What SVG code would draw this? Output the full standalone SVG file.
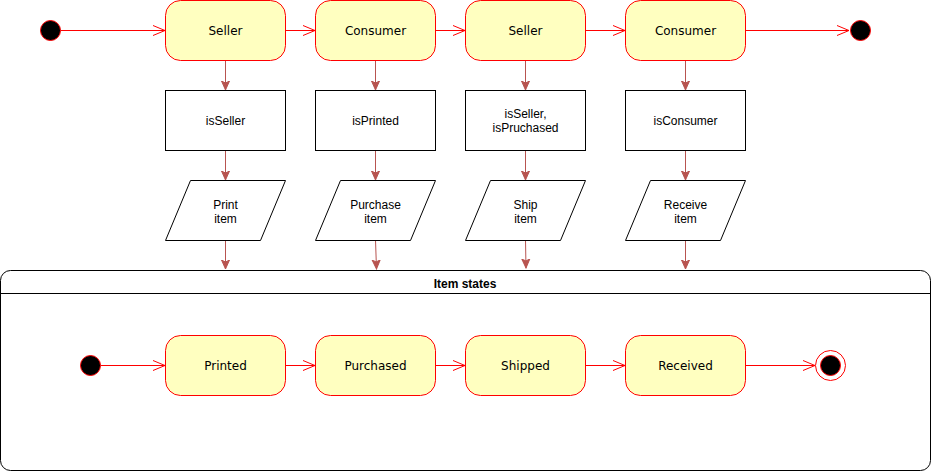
<svg xmlns="http://www.w3.org/2000/svg" width="931" height="471" viewBox="0 0 931 471">
<style>
.st{fill:#ffffc0;stroke:#ff0000;stroke-width:1}
.sl{font-family:"DejaVu Sans",Verdana,sans-serif;font-size:12px;fill:#000;text-anchor:middle}
.box{fill:#fff;stroke:#000;stroke-width:1}
.bl{font-family:"Liberation Sans",Arial,sans-serif;font-size:12px;fill:#000;text-anchor:middle}
.red{fill:none;stroke:#ff0000;stroke-width:1;marker-end:url(#open)}
.brn{fill:none;stroke:#b85450;stroke-width:1;marker-end:url(#blk)}
.dot{fill:#000;stroke:#ff0000;stroke-width:1}
</style>
<defs>
<marker id="open" markerWidth="14" markerHeight="12" refX="13" refY="6" orient="auto" markerUnits="userSpaceOnUse">
<path d="M1,1 L13,6 L1,11" fill="none" stroke="#ff0000" stroke-width="1"/>
</marker>
<marker id="blk" markerWidth="10" markerHeight="10" refX="9" refY="5" orient="auto" markerUnits="userSpaceOnUse">
<path d="M0,1 L9,5 L0,9 L2,5 Z" fill="#b85450" stroke="#b85450" stroke-width="1"/>
</marker>
</defs>
<g id="container">
<path d="M10.5,270.5 H920.5 A10,10 0 0 1 930.5,280.5 V460.5 A10,10 0 0 1 920.5,470.5 H10.5 A10,10 0 0 1 0.5,460.5 V280.5 A10,10 0 0 1 10.5,270.5 Z" fill="#fff" stroke="#000"/>
<line x1="0.5" y1="293.5" x2="930.5" y2="293.5" stroke="#000"/>
<text x="465" y="288" font-family="'Liberation Sans',Arial,sans-serif" font-size="12" font-weight="bold" text-anchor="middle">Item states</text>
</g>
<g id="connectors">
<line class="red" x1="61" y1="30.5" x2="165" y2="30.5"/>
<line class="red" x1="285" y1="30.5" x2="315" y2="30.5"/>
<line class="red" x1="435" y1="30.5" x2="465" y2="30.5"/>
<line class="red" x1="585" y1="30.5" x2="625" y2="30.5"/>
<line class="red" x1="745" y1="30.5" x2="849" y2="30.5"/>
<line class="brn" x1="225.5" y1="60" x2="225.5" y2="90"/>
<line class="brn" x1="375.5" y1="60" x2="375.5" y2="90"/>
<line class="brn" x1="525.5" y1="60" x2="525.5" y2="90"/>
<line class="brn" x1="685.5" y1="60" x2="685.5" y2="90"/>
<line class="brn" x1="225.5" y1="150" x2="225.5" y2="180"/>
<line class="brn" x1="375.5" y1="150" x2="375.5" y2="180"/>
<line class="brn" x1="525.5" y1="150" x2="525.5" y2="180"/>
<line class="brn" x1="685.5" y1="150" x2="685.5" y2="180"/>
<line class="brn" x1="225.5" y1="240" x2="225.5" y2="269"/>
<line class="brn" x1="375.5" y1="240" x2="376.5" y2="269"/>
<line class="brn" x1="525.5" y1="240" x2="526" y2="268"/>
<line class="brn" x1="685.5" y1="240" x2="685.5" y2="269"/>
<line class="red" x1="101" y1="365.5" x2="165" y2="365.5"/>
<line class="red" x1="285" y1="365.5" x2="315" y2="365.5"/>
<line class="red" x1="435" y1="365.5" x2="465" y2="365.5"/>
<line class="red" x1="585" y1="365.5" x2="625" y2="365.5"/>
<line class="red" x1="745" y1="365.5" x2="815" y2="365.5"/>
</g>
<g id="start-top"><circle class="dot" cx="50.5" cy="30.5" r="10"/></g>
<g id="end-top"><circle class="dot" cx="860.5" cy="30.5" r="10"/></g>
<g id="seller1"><rect class="st" x="165.5" y="0.5" width="120" height="60" rx="15"/><text class="sl" x="225.5" y="35">Seller</text></g>
<g id="consumer1"><rect class="st" x="315.5" y="0.5" width="120" height="60" rx="15"/><text class="sl" x="375.5" y="35">Consumer</text></g>
<g id="seller2"><rect class="st" x="465.5" y="0.5" width="120" height="60" rx="15"/><text class="sl" x="525.5" y="35">Seller</text></g>
<g id="consumer2"><rect class="st" x="625.5" y="0.5" width="120" height="60" rx="15"/><text class="sl" x="685.5" y="35">Consumer</text></g>
<g id="isSeller"><rect class="box" x="165.5" y="90.5" width="120" height="60"/><text class="bl" x="225.5" y="125">isSeller</text></g>
<g id="isPrinted"><rect class="box" x="315.5" y="90.5" width="120" height="60"/><text class="bl" x="375.5" y="125">isPrinted</text></g>
<g id="isSellerPurchased"><rect class="box" x="465.5" y="90.5" width="120" height="60"/><text class="bl" x="525.5" y="118">isSeller,</text><text class="bl" x="525.5" y="132">isPruchased</text></g>
<g id="isConsumer"><rect class="box" x="625.5" y="90.5" width="120" height="60"/><text class="bl" x="685.5" y="125">isConsumer</text></g>
<g id="print-item"><path class="box" d="M190.5,180.5 H285.5 L260.5,240.5 H165.5 Z"/><text class="bl" x="225.5" y="209">Print</text><text class="bl" x="225.5" y="223">item</text></g>
<g id="purchase-item"><path class="box" d="M340.5,180.5 H435.5 L410.5,240.5 H315.5 Z"/><text class="bl" x="375.5" y="209">Purchase</text><text class="bl" x="375.5" y="223">item</text></g>
<g id="ship-item"><path class="box" d="M490.5,180.5 H585.5 L560.5,240.5 H465.5 Z"/><text class="bl" x="525.5" y="209">Ship</text><text class="bl" x="525.5" y="223">item</text></g>
<g id="receive-item"><path class="box" d="M650.5,180.5 H745.5 L720.5,240.5 H625.5 Z"/><text class="bl" x="685.5" y="209">Receive</text><text class="bl" x="685.5" y="223">item</text></g>
<g id="start-bottom"><circle class="dot" cx="90.5" cy="365.5" r="10"/></g>
<g id="printed"><rect class="st" x="165.5" y="335.5" width="120" height="60" rx="15"/><text class="sl" x="225.5" y="370">Printed</text></g>
<g id="purchased"><rect class="st" x="315.5" y="335.5" width="120" height="60" rx="15"/><text class="sl" x="375.5" y="370">Purchased</text></g>
<g id="shipped"><rect class="st" x="465.5" y="335.5" width="120" height="60" rx="15"/><text class="sl" x="525.5" y="370">Shipped</text></g>
<g id="received"><rect class="st" x="625.5" y="335.5" width="120" height="60" rx="15"/><text class="sl" x="685.5" y="370">Received</text></g>
<g id="end-bottom"><circle cx="830.5" cy="365.5" r="15" fill="#fff" stroke="#ff0000"/><circle cx="830.5" cy="365.5" r="10" fill="#000" stroke="#ff0000"/></g>
</svg>
